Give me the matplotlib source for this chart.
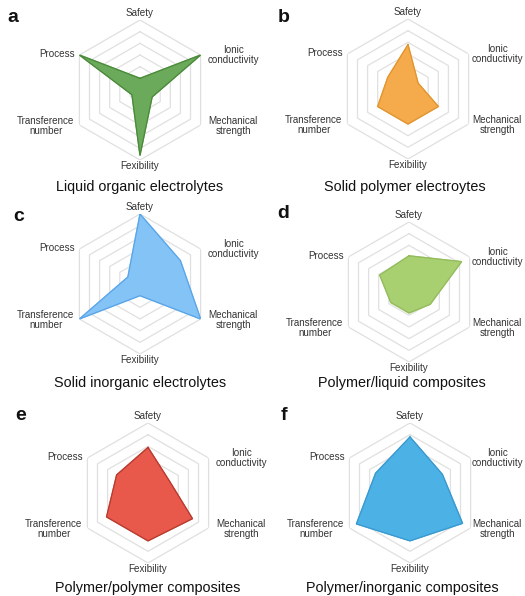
import numpy as np
import matplotlib
matplotlib.use("Agg")
import matplotlib.pyplot as plt

plt.rcParams['font.family'] = ['Liberation Sans', 'DejaVu Sans']

categories = ["Safety", "Ionic\nconductivity", "Mechanical\nstrength",
              "Fexibility", "Transference\nnumber", "Process"]

liquid_organic = [1.0, 6.0, 1.2, 5.6, 0.8, 6.0]
solid_polymer = [3.8, 1.0, 3.0, 3.0, 3.0, 2.0]
solid_inorganic = [6.0, 4.0, 6.0, 1.0, 6.0, 1.2]
polymer_liquid = [3.1, 5.2, 2.1, 1.8, 1.8, 2.9]
polymer_polymer = [3.9, 2.1, 4.4, 4.1, 4.1, 3.1]
polymer_inorganic = [4.8, 3.2, 5.2, 4.1, 5.3, 3.4]

titles = ["Liquid organic electrolytes", "Solid polymer electroytes",
          "Solid inorganic electrolytes", "Polymer/liquid composites",
          "Polymer/polymer composites", "Polymer/inorganic composites"]
letters = ["a", "b", "c", "d", "e", "f"]
series = [liquid_organic, solid_polymer, solid_inorganic,
          polymer_liquid, polymer_polymer, polymer_inorganic]
fills = ["#6aaa5a", "#f5ab4b", "#84c3f6", "#a8cf70", "#e8594c", "#4cb2e5"]
edges = ["#4a8a3a", "#e0952f", "#5aa5e8", "#93bc5e", "#b53b30", "#3a98cf"]

W, H = 525, 596
fig = plt.figure(figsize=(W / 100, H / 100), dpi=100)

# layout in pixels
centers = [(140, 90), (408, 89), (140, 284), (409, 292), (148, 493), (410, 493)]
R = 70
title_pos = [(140, 187), (405, 187), (140, 383), (402, 383), (148, 588), (402, 588)]
letter_pos = [(13, 18), (284, 18), (19, 217), (283, 214), (21, 416), (284, 416)]
label_off = [(0, -77), (93, -35), (93, 36), (0, 76), (-94, 36), (-83, -36)]

n = len(categories)
theta = np.arange(n) * 2 * np.pi / n
theta_c = np.append(theta, theta[0])
rmax = 6

for i in range(6):
    cx, cy = centers[i]
    ax = fig.add_axes([(cx - R) / W, (H - cy - R) / H, 2 * R / W, 2 * R / H],
                      projection='polar')
    ax.set_theta_offset(np.pi / 2)
    ax.set_theta_direction(-1)
    ax.set_ylim(0, rmax)
    ax.grid(False)
    ax.spines['polar'].set_visible(False)
    ax.set_xticks([])
    ax.set_yticks([])
    ax.patch.set_alpha(0)
    for ring in range(1, rmax + 1):
        ax.plot(theta_c, [ring] * (n + 1), color="#e0e0e0", lw=0.9, zorder=1)
    vals = series[i] + [series[i][0]]
    ax.fill(theta_c, vals, color=fills[i], alpha=1.0, zorder=2)
    ax.plot(theta_c, vals, color=edges[i], lw=0.9, zorder=3)
    right_col = cx > W / 2
    for k, (lab, (dx, dy)) in enumerate(zip(categories, label_off)):
        if right_col and k in (1, 2):
            dx = min(dx, W - 2 - cx - 26)
        ax.annotate(lab, xy=(0.5, 0.5), xycoords='axes fraction',
                    xytext=(dx, -dy), textcoords='offset pixels',
                    ha='center', va='center', fontsize=7.1, color="#333333",
                    linespacing=1.1, annotation_clip=False)
    tx, ty = title_pos[i]
    fig.text(tx / W, 1 - ty / H, titles[i], ha='center', va='center',
             fontsize=10.4, color="#111111")
    lx, ly = letter_pos[i]
    fig.text(lx / W, 1 - ly / H, letters[i], ha='center', va='center',
             fontsize=14, fontweight='bold', color="#111111")

fig.savefig("out.png", dpi=100)
